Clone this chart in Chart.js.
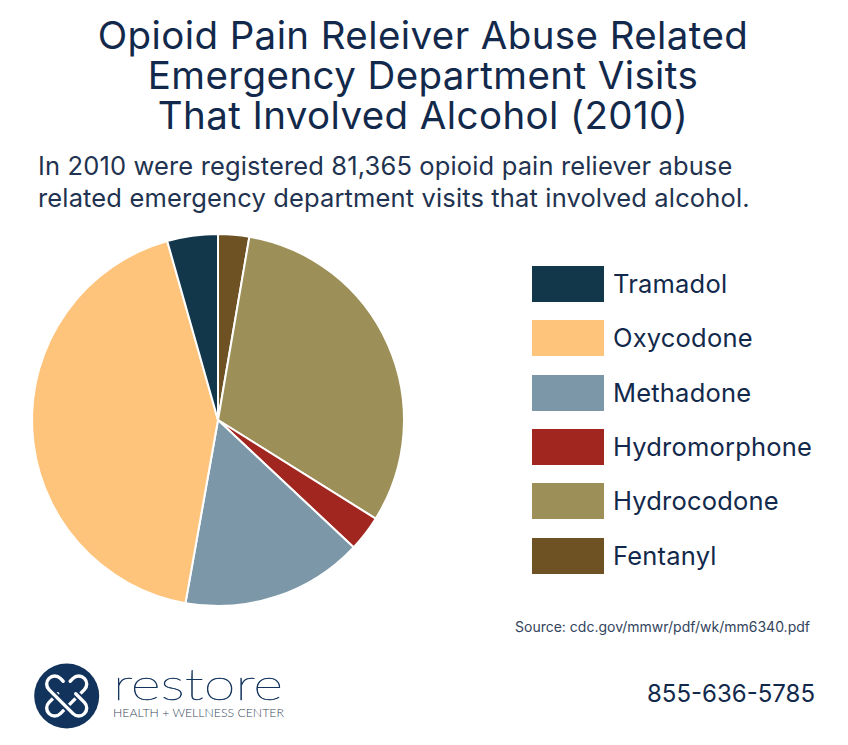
<!DOCTYPE html>
<html>
<head>
<meta charset="utf-8">
<title>Opioid Pain Reliever Abuse</title>
<script src="https://cdn.jsdelivr.net/npm/chart.js@4"></script>
<style>
  html, body { margin: 0; padding: 0; background: #fff; }
  body { width: 848px; height: 745px; position: relative; overflow: hidden; font-family: Inter, sans-serif; font-weight: 400; color: #12294b; }
  .abs { position: absolute; white-space: nowrap; }
  #titulo { left: 0; width: 846px; top: 15px; text-align: center; font-size: 38.5px; line-height: 40px; letter-spacing: 0.4px; }
  #subtitulo { left: 38px; top: 150px; font-size: 25.5px; line-height: 32px; letter-spacing: 0.14px; color: #1f3350; }
  #wrapPie { left: 28px; top: 230px; width: 380px; height: 380px; }
  .swatch { position: absolute; left: 532px; width: 72px; height: 36px; }
  .legendText { position: absolute; left: 613px; font-size: 25.5px; line-height: 36px; letter-spacing: 0.2px; white-space: nowrap; color: #12294b; }
  #fuente { left: 515px; top: 618px; font-size: 14px; line-height: 18px; color: #33445c; }
  #telefono { left: 647px; top: 678px; font-size: 24px; line-height: 32px; color: #12294b; }
  #logo { left: 30px; top: 660px; }
</style>
</head>
<body>
<div id="titulo" class="abs">Opioid Pain Releiver Abuse Related<br>Emergency Department Visits<br>That Involved Alcohol (2010)</div>
<div id="subtitulo" class="abs">In 2010 were registered 81,365 opioid pain reliever abuse<br>related emergency department visits that involved alcohol.</div>
<div id="wrapPie" class="abs"><canvas id="graficoPie" width="380" height="380"></canvas></div>
<div id="leyenda"></div>
<div id="fuente" class="abs">Source: cdc.gov/mmwr/pdf/wk/mm6340.pdf</div>
<div id="telefono" class="abs">855-636-5785</div>
<svg id="logo" class="abs" width="270" height="72" viewBox="0 0 270 72">
  <circle cx="36.7" cy="36" r="32.5" fill="#12335c"/>
  <g transform="translate(36.7 36)" fill="none" stroke-linecap="round">
    <path d="M3.5 -14.8 L6.34 -17.66 A8 8 0 0 1 17.66 -6.34 L-6.34 17.66 A8 8 0 0 1 -17.66 6.34 L-9 -2.3" stroke="#fff" stroke-width="3.4"/>
    <path d="M-6.34 -17.66 A8 8 0 0 0 -17.66 -6.34 L6.34 17.66 A8 8 0 0 0 17.66 6.34 L9 -2.3" stroke="#12335c" stroke-width="7"/>
    <path d="M-3.5 -14.8 L-6.34 -17.66 A8 8 0 0 0 -17.66 -6.34 L6.34 17.66 A8 8 0 0 0 17.66 6.34 L9 -2.3" stroke="#fff" stroke-width="3.4"/>
  </g>
  <text x="83" y="40" font-family="Lato" font-weight="100" font-size="44" textLength="170" lengthAdjust="spacingAndGlyphs" fill="#12335c" stroke="#12335c" stroke-width="0.5">restore</text>
  <text x="83" y="57" font-family="Lato" font-weight="300" font-size="12.3" fill="#3b4a5e">HEALTH + WELLNESS CENTER</text>
</svg>
<script>
// Orden de la leyenda (de arriba hacia abajo)
const categorias = ['Tramadol', 'Oxycodone', 'Methadone', 'Hydromorphone', 'Hydrocodone', 'Fentanyl'];
const valores = [4.4, 42.8, 15.8, 3.1, 31.2, 2.7];
const colores = ['#12364a', '#fec47c', '#7c98a8', '#a1261f', '#9c8f58', '#6e5223'];

// Leyenda en HTML
const leyendaTop = [266, 320, 375, 429, 483, 538];
const leyenda = document.getElementById('leyenda');
categorias.forEach((nombre, i) => {
    leyenda.innerHTML += `<div class="swatch" style="top:${leyendaTop[i]}px;background:${colores[i]}"></div>` +
        `<div class="legendText" style="top:${leyendaTop[i]}px">${nombre}</div>`;
});

// La torta va en sentido horario desde arriba, empezando por Fentanyl
new Chart(document.getElementById('graficoPie').getContext('2d'), {
    type: 'pie',
    data: {
        labels: categorias.slice().reverse(),
        datasets: [{
            data: valores.slice().reverse(),
            backgroundColor: colores.slice().reverse(),
            borderColor: '#ffffff',
            borderWidth: 2,
            radius: 186
        }]
    },
    options: {
        responsive: false,
        animation: false,
        layout: { padding: 0 },
        plugins: { legend: { display: false }, tooltip: { enabled: false } }
    }
});
</script>
</body>
</html>
